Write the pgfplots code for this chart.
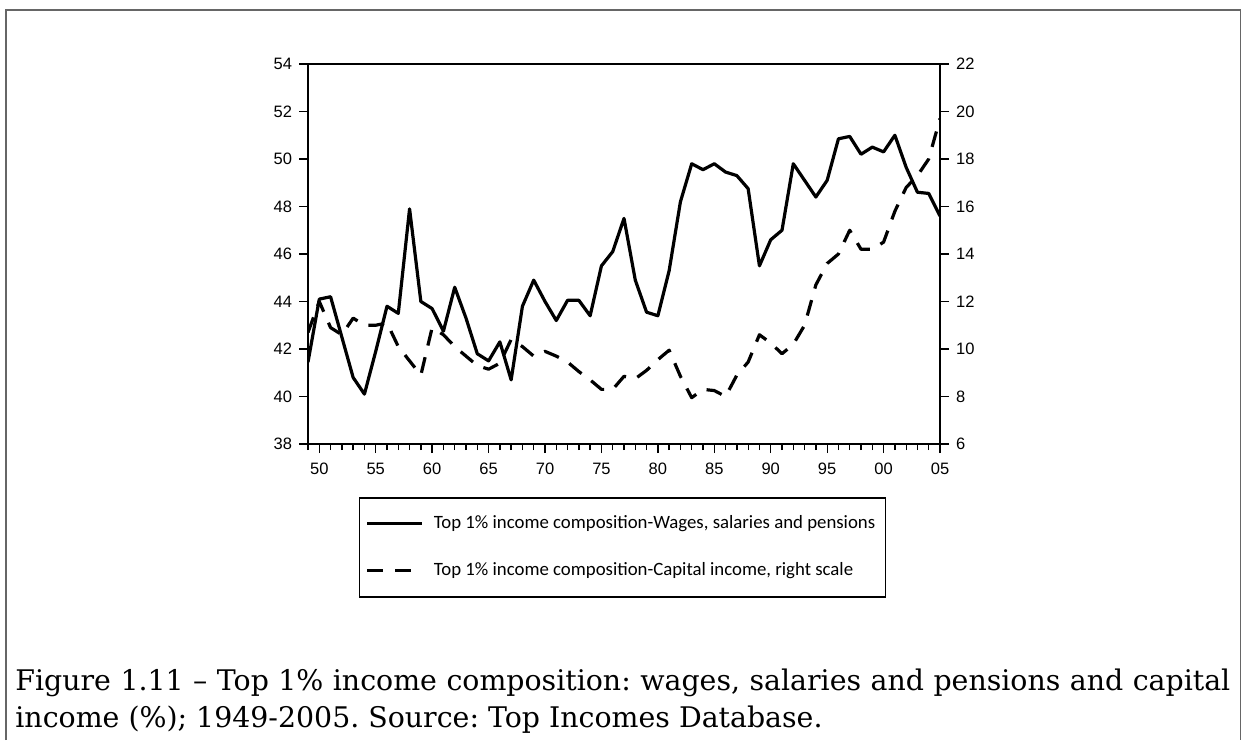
\documentclass[border=0pt]{standalone}
\usepackage{fontspec}
\setmainfont{Liberation Sans}
\newfontfamily\capfont{DejaVu Serif}
\newfontfamily\legfont{Carlito}
\usepackage{pgfplots}
\usepackage{pgfplotstable}
\pgfplotsset{compat=1.18}

\pgfplotstableread{
year w c
1949 41.45 10.7
1950 44.1 12.0
1951 44.2 10.9
1952 42.5 10.6
1953 40.8 11.3
1954 40.1 11.0
1955 41.9 11.0
1956 43.8 11.1
1957 43.5 10.1
1958 47.9 9.5
1959 44.0 8.9
1960 43.7 10.9
1961 42.75 10.6
1962 44.6 10.1
1963 43.3 9.7
1964 41.8 9.3
1965 41.5 9.15
1966 42.3 9.4
1967 40.7 10.4
1968 43.8 10.1
1969 44.9 9.7
1970 44.0 9.9
1971 43.2 9.7
1972 44.05 9.45
1973 44.05 9.05
1974 43.4 8.7
1975 45.5 8.3
1976 46.1 8.3
1977 47.5 8.85
1978 44.9 8.75
1979 43.55 9.1
1980 43.4 9.55
1981 45.3 9.95
1982 48.2 8.85
1983 49.8 7.95
1984 49.55 8.3
1985 49.8 8.25
1986 49.45 8.0
1987 49.3 8.9
1988 48.75 9.45
1989 45.5 10.6
1990 46.6 10.25
1991 47.0 9.8
1992 49.8 10.2
1993 49.1 11.0
1994 48.4 12.7
1995 49.1 13.6
1996 50.85 14.0
1997 50.95 15.0
1998 50.2 14.2
1999 50.5 14.2
2000 50.3 14.5
2001 51.0 15.8
2002 49.65 16.8
2003 48.6 17.3
2004 48.55 18.0
2005 47.6 19.7
}\data

\pgfplotsset{
  common/.style={
    width=316pt, height=190pt, scale only axis,
    at={(154pt,148pt)}, anchor=south west,
    xmin=1949, xmax=2005,
    tick align=outside,
    major tick length=4.5pt, minor tick length=3pt,
    axis line style={line width=0.65pt, black, -},
    every tick/.style={black, line width=0.65pt},
    ticklabel style={font=\fontsize{8.25}{9}\selectfont, text=black},
    /pgf/number format/assume math mode=true,
  }
}

\begin{document}
\frenchspacing
\begin{tikzpicture}
\useasboundingbox (0pt,0pt) rectangle (621.5pt,370pt);
\draw[line width=0.75pt, color=black!60] (3pt,0pt) -- (3pt,365pt) -- (620.35pt,365pt) -- (620.35pt,0pt);

\begin{axis}[common,
  ymin=38, ymax=54, ytick={38,40,...,54},
  xtick={1950,1955,...,2005},
  xticklabels={50,55,60,65,70,75,80,85,90,95,00,05},
  minor xtick={1949,1950,...,2005},
  xtick pos=bottom, ytick pos=left,
  xticklabel style={yshift=-1.5pt},
]
\addplot[black, line width=1.6pt, line join=round] table[x=year, y=w] {\data};
\end{axis}

\begin{axis}[common,
  ymin=6, ymax=22, ytick={6,8,...,22},
  axis y line*=right, hide x axis,
  legend style={at={(0.4976,-0.1395)}, anchor=north, draw=black, line width=0.75pt,
    font=\legfont\fontsize{9.4}{11}\selectfont, inner xsep=3pt, inner ysep=7pt,
    row sep=11.5pt, /tikz/every odd column/.append style={column sep=3pt}},
  legend cell align=left,
  legend image code/.code={\draw[#1] (0pt,0pt) -- (27.5pt,0pt);},
]
\addlegendimage{black, line width=1.6pt}
\addlegendentry{Top 1\% income composition-Wages, salaries and pensions}
\addplot[black, line width=1.6pt, dash pattern=on 8pt off 6pt, line join=round] table[x=year, y=c] {\data};
\addlegendentry{Top 1\% income composition-Capital income, right scale}
\end{axis}

\node[anchor=base west, inner sep=0pt, text width=607.5pt, align=justify,
  font=\capfont\fontsize{14.2}{18.5}\selectfont] at (7.5pt,25pt)
  {Figure 1.11 \textendash{} Top 1\% income composition: wages, salaries and pensions and capital\linebreak
   income (\%); 1949-2005. Source: Top Incomes Database.};
\end{tikzpicture}
\end{document}
